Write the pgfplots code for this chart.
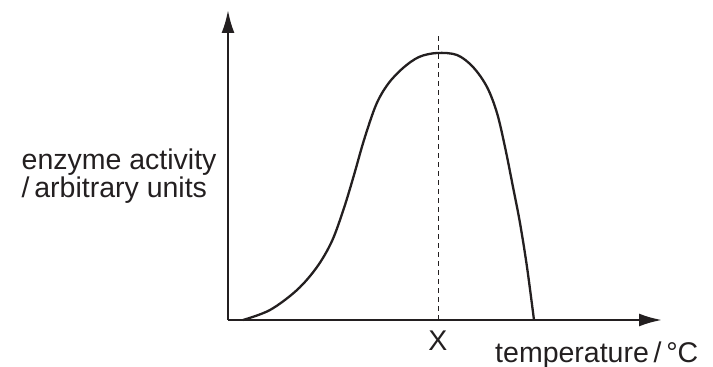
\documentclass[border=0pt]{standalone}
\usepackage{pgfplots}
\pgfplotsset{compat=1.18}
\usepackage{fontspec}
\setmainfont{Liberation Sans}
\usetikzlibrary{arrows.meta}
\definecolor{ink}{HTML}{231F20}

\begin{document}
\begin{tikzpicture}
  \fontsize{28.5bp}{30bp}\selectfont
  \begin{axis}[
    at={(0,0)}, anchor=south west,
    scale only axis,
    width=434bp, height=310bp,
    xmin=0, xmax=434, ymin=0, ymax=310,
    axis lines=left,
    axis line style={ink, line width=2.4bp, -{Latex[length=23bp,width=13bp]}},
    xtick=\empty, ytick=\empty,
    clip=false,
  ]
    % dashed marker at the optimum temperature X
    \addplot[ink, line width=1bp, dash pattern=on 5bp off 4bp]
      coordinates {(210,0) (210,287)};

    % enzyme activity curve
    \addplot[ink, line width=2.3bp, smooth, tension=0.55] coordinates {
      (15,0) (42,10) (69,30) (89,53) (104,79) (116,112) (126,145)
      (136,180) (148,215) (160,236) (175,252) (191,263) (209,267)
      (229,265) (245,253) (259,233) (269,207) (277,173) (285,133)
      (292,97) (299,53) (306,0)
    };

    \node[anchor=base, ink] at (axis cs:210,-30) {X};
    \node[anchor=base east, ink] at (axis cs:480,-42) {temperature\,/\,°C};
    \node[anchor=base west, ink] at (axis cs:-216,151) {enzyme activity};
    \node[anchor=base west, ink] at (axis cs:-216,123) {/\,arbitrary units};
  \end{axis}
  \pgfresetboundingbox
  \path (-228bp,-47bp) rectangle (485bp,320bp);
\end{tikzpicture}
\end{document}
